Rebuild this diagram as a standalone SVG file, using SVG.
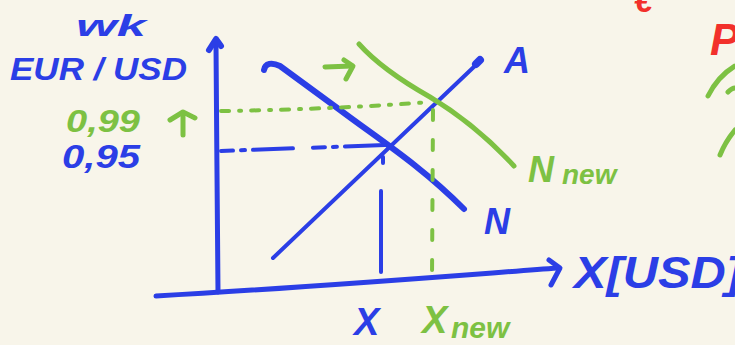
<svg xmlns="http://www.w3.org/2000/svg" width="735" height="345" viewBox="0 0 735 345">
<style>
.b{stroke:#2b3ee6;fill:none;stroke-linecap:round;stroke-linejoin:round}
.g{stroke:#7dc143;fill:none;stroke-linecap:round;stroke-linejoin:round}
.r{stroke:#f2302b;fill:none;stroke-linecap:round;stroke-linejoin:round}
.t{font-family:"Liberation Sans",Arial,sans-serif;font-weight:bold;font-style:italic}
.tb{fill:#2b3ee6}
.tg{fill:#7dc143}
.tr{fill:#f2302b}
</style>
<rect width="735" height="345" fill="#f8f5ea"/>
<g id="connectors">
  <!-- axes -->
  <path class="b" stroke-width="5" d="M218,292 C218,220 216,120 216,44"/>
  <path class="b" stroke-width="6" d="M209,50 L216,39 L221,46"/>
  <path class="b" stroke-width="5" d="M156,296 C300,288 450,276 558,268"/>
  <path class="b" stroke-width="5" d="M549,260 L560,268 L551,285"/>
  <!-- demand N -->
  <path class="b" stroke-width="6" d="M264,70 C265,63 272,62 280,66 L340,110 C380,140 420,165 464,209"/>
  <!-- supply A -->
  <path class="b" stroke-width="4" d="M273,258 L478,63"/>
  <path class="b" stroke-width="8" d="M476,64 L480,60"/>
  <!-- Nnew -->
  <path class="g" stroke-width="5" d="M359,44 C375,62 400,80 430,97 C465,118 490,140 514,166"/>
  <!-- shift arrow -->
  <path class="g" stroke-width="5" d="M325,67 L352,66"/>
  <path class="g" stroke-width="5" d="M344,60 L353,66 L346,79"/>
  <!-- green dash-dot horizontal -->
  <path class="g" stroke-width="4" stroke-dasharray="8 10 2 10" d="M221,111 C300,110 380,106 430,102"/>
  <!-- green dashed vertical -->
  <path class="g" stroke-width="4" stroke-dasharray="10 20" d="M433,110 L432,278"/>
  <!-- blue dashed horizontal -->
  <path class="b" stroke-width="4" stroke-dasharray="12 8 4 8 40 20" d="M221,151 L385,145"/>
  <!-- blue vertical -->
  <path class="b" stroke-width="4" d="M383,157 L383,163"/>
  <path class="b" stroke-width="4" d="M381,191 L381,272"/>
  <!-- up arrow near 0,99 -->
  <path class="g" stroke-width="5" d="M183,114 L183,135"/>
  <path class="g" stroke-width="5" d="M170,120 L183,112 L195,118"/>
  <!-- partial green strokes at right edge -->
  <path class="g" stroke-width="5" d="M708,96 C715,82 725,72 735,66"/>
  <path class="g" stroke-width="5" d="M728,92 C730,90 733,88 735,88"/>
  <path class="g" stroke-width="5" d="M720,155 C724,145 730,136 735,130"/>
</g>
<g id="labels">
  <text class="t tb" x="76" y="36" font-size="30" textLength="70" lengthAdjust="spacingAndGlyphs">wk</text>
  <text class="t tb" x="10" y="80" font-size="32" textLength="177" lengthAdjust="spacingAndGlyphs">EUR / USD</text>
  <text class="t tg" x="66" y="132" font-size="31" textLength="74" lengthAdjust="spacingAndGlyphs">0,99</text>
  <text class="t tb" x="62" y="168" font-size="34" textLength="78" lengthAdjust="spacingAndGlyphs">0,95</text>
  <text class="t tb" x="504" y="73" font-size="36">A</text>
  <text class="t tb" x="484" y="234" font-size="36">N</text>
  <text class="t tg" x="528" y="182" font-size="36">N</text>
  <text class="t tg" x="562" y="184" font-size="28">new</text>
  <text class="t tb" x="354" y="335" font-size="38">X</text>
  <text class="t tg" x="422" y="333" font-size="38">X</text>
  <text class="t tg" x="451" y="338" font-size="30">new</text>
  <text class="t tb" x="574" y="288" font-size="44" textLength="168" lengthAdjust="spacingAndGlyphs">X[USD]</text>
  <text class="t tr" x="634" y="12" font-size="34">€</text>
  <text class="t tr" x="710" y="55" font-size="44">P</text>
</g>
</svg>
